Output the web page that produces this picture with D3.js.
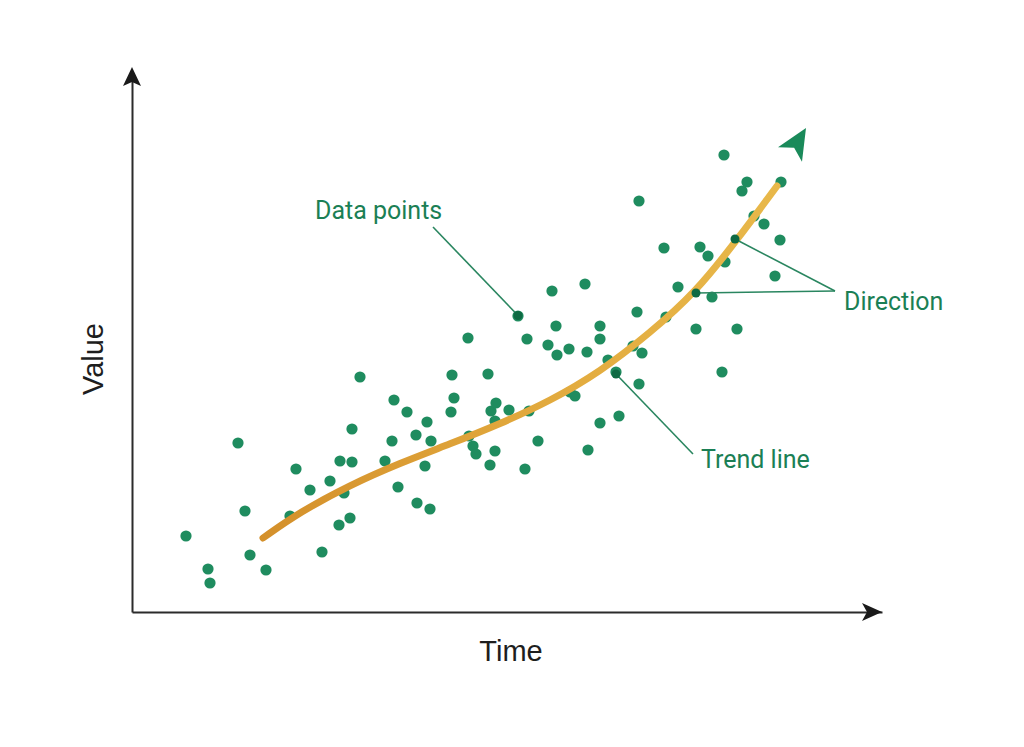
<!DOCTYPE html>
<html>
<head>
<meta charset="utf-8">
<script src="https://cdn.jsdelivr.net/npm/d3@7"></script>
<style>
  html, body { margin: 0; padding: 0; background: #fff; }
  #chart { width: 1024px; height: 747px; }
</style>
</head>
<body>
<div id="chart"></div>
<script>
// scatter points: time / value
const timeValues = [
  5.4, 7.6, 7.8, 10.6, 11.3, 11.8, 13.4, 15.8, 16.4, 17.8,
  19.0, 19.8, 20.7, 20.8, 21.2, 21.8, 22.0, 22.0, 22.8, 25.3,
  26.0, 26.2, 26.6, 27.5, 28.4, 28.5, 29.3, 29.5, 29.8, 29.9,
  31.9, 32.0, 32.2, 33.6, 33.7, 34.1, 34.4, 35.6, 35.8, 35.9,
  36.3, 36.3, 36.4, 37.7, 38.6, 39.3, 39.5, 39.7, 40.6, 41.6,
  42.0, 42.4, 42.5, 43.7, 43.8, 44.3, 45.3, 45.5, 45.6, 46.8,
  46.8, 46.8, 47.6, 48.4, 48.7, 50.1, 50.5, 50.7, 50.7, 51.0,
  53.2, 53.4, 54.6, 56.4, 56.8, 57.6, 58.0, 59.0, 59.2, 59.3,
  60.5, 61.0, 61.5, 62.2, 63.2, 64.3, 64.8, 64.9
];
const valueValues = [
  7.6, 4.3, 2.9, 16.9, 10.1, 5.7, 4.2, 9.6, 14.3, 12.2,
  6.0, 13.1, 8.7, 15.1, 11.9, 9.4, 18.3, 15.0, 23.5, 15.1,
  17.1, 21.2, 12.5, 20.0, 17.7, 10.9, 14.6, 19.0, 10.3, 17.1,
  20.0, 23.7, 21.4, 27.4, 17.6, 16.6, 15.8, 23.8, 14.7, 20.1,
  19.1, 16.1, 20.9, 20.2, 29.6, 14.3, 27.3, 20.1, 17.1, 26.7,
  32.1, 28.6, 25.7, 26.3, 22.0, 21.6, 32.8, 26.0, 16.2, 28.6,
  27.3, 18.9, 25.2, 24.0, 19.6, 26.6, 30.0, 41.1, 22.8, 25.9,
  36.4, 29.5, 32.5, 28.3, 36.5, 35.6, 31.5, 24.0, 45.7, 35.0,
  28.3, 42.1, 43.0, 39.6, 38.8, 33.6, 37.2, 43.0
];

// trend line
const trendTime  = [13.1, 16.8, 21.8, 26.8, 31.8, 36.8, 41.8, 46.8, 51.8, 56.4, 60.5, 64.5];
const trendValue = [7.4, 10.0, 12.7, 14.9, 16.8, 18.8, 21.1, 24.0, 27.9, 32.0, 37.2, 42.6];

// direction arrow (base -> tip)
const arrowTime  = [65.8, 67.4];
const arrowValue = [45.75, 48.4];

// annotations: label and the points it points at
const annotationLabels = ["Data points", "Trend line", "Direction"];
const annotationTargetTime  = [[38.6], [48.4], [60.3, 56.4]];
const annotationTargetValue = [[29.65], [23.8], [37.3, 31.9]];

const axisTitles = ["Time", "Value"];

// ---- layout ----
const width = 1024, height = 747;
const origin = { x: 132, y: 612 };
const labelPos = [
  { x: 315, y: 219, lx: 433, ly: 227 },
  { x: 701, y: 468, lx: 693, ly: 454 },
  { x: 844, y: 310, lx: 835, ly: 291 }
];
const green = '#1f8c5f';
const darkGreen = '#0e6a43';
const textGreen = '#1b7f55';

const svg = d3.select('#chart')
  .append('svg')
  .attr('width', width)
  .attr('height', height)
  .attr('viewBox', [0, 0, width, height]);

const x = d3.scaleLinear().domain([0, 75]).range([origin.x, 882]);
const y = d3.scaleLinear().domain([0, 54]).range([origin.y, 72]);

// 渐变色趋势线
const defs = svg.append('defs');
const grad = defs.append('linearGradient')
  .attr('id', 'trendGrad')
  .attr('gradientUnits', 'userSpaceOnUse')
  .attr('x1', x(trendTime[0])).attr('y1', 0)
  .attr('x2', x(trendTime[trendTime.length - 1])).attr('y2', 0);
grad.append('stop').attr('offset', '0%').attr('stop-color', '#d4902b');
grad.append('stop').attr('offset', '55%').attr('stop-color', '#e2aa3e');
grad.append('stop').attr('offset', '100%').attr('stop-color', '#e8b84a');

// axes (no ticks)
svg.append('g')
  .attr('transform', `translate(0,${origin.y})`)
  .call(d3.axisBottom(x).ticks(0).tickSizeOuter(0));
svg.append('g')
  .attr('transform', `translate(${origin.x},0)`)
  .call(d3.axisLeft(y).ticks(0).tickSizeOuter(0));
svg.selectAll('.domain')
  .attr('stroke', '#2b2b2b')
  .attr('stroke-width', 2);

// axis arrowheads
const xEnd = x.range()[1], yEnd = y.range()[1];
svg.append('path')
  .attr('d', `M${xEnd},${origin.y} L${xEnd - 20},${origin.y - 9} L${xEnd - 15},${origin.y} L${xEnd - 20},${origin.y + 9} Z`)
  .attr('fill', '#1a1a1a');
svg.append('path')
  .attr('d', `M${origin.x},${yEnd - 5} L${origin.x - 9},${yEnd + 14} L${origin.x},${yEnd + 10} L${origin.x + 9},${yEnd + 14} Z`)
  .attr('fill', '#1a1a1a');

// axis titles
svg.append('text')
  .attr('x', 511).attr('y', 661)
  .attr('text-anchor', 'middle')
  .attr('font-family', '"Liberation Sans", Arial, sans-serif')
  .attr('font-size', 29)
  .attr('fill', '#1e1e1e')
  .text(axisTitles[0]);
svg.append('text')
  .attr('transform', 'translate(103,359) rotate(-90)')
  .attr('text-anchor', 'middle')
  .attr('font-family', '"Liberation Sans", Arial, sans-serif')
  .attr('font-size', 29)
  .attr('fill', '#1e1e1e')
  .text(axisTitles[1]);

// points
const points = timeValues.map((t, i) => ({ t, v: valueValues[i] }));
svg.append('g')
  .selectAll('circle')
  .data(points)
  .join('circle')
  .attr('cx', d => x(d.t))
  .attr('cy', d => y(d.v))
  .attr('r', 5.6)
  .attr('fill', green);

// trend line
const trend = trendTime.map((t, i) => ({ t, v: trendValue[i] }));
svg.append('path')
  .datum(trend)
  .attr('d', d3.line().x(d => x(d.t)).y(d => y(d.v)).curve(d3.curveBasis))
  .attr('fill', 'none')
  .attr('stroke', 'url(#trendGrad)')
  .attr('stroke-width', 7)
  .attr('stroke-linecap', 'round');

// direction arrowhead
{
  const bx = x(arrowTime[0]), by = y(arrowValue[0]);
  const tx = x(arrowTime[1]), ty = y(arrowValue[1]);
  const len = Math.hypot(tx - bx, ty - by);
  const ux = (tx - bx) / len, uy = (ty - by) / len;
  const px = -uy, py = ux;
  const hw = 14, notch = 8;
  svg.append('path')
    .attr('d', `M${tx},${ty} L${bx + px * hw},${by + py * hw} L${bx + ux * notch},${by + uy * notch} L${bx - px * hw},${by - py * hw} Z`)
    .attr('fill', '#1a8a5a');
}

// annotations
const annG = svg.append('g');
annotationLabels.forEach((label, i) => {
  const pos = labelPos[i];
  annotationTargetTime[i].forEach((t, j) => {
    const tx = x(t), ty = y(annotationTargetValue[i][j]);
    annG.append('line')
      .attr('x1', pos.lx).attr('y1', pos.ly)
      .attr('x2', tx).attr('y2', ty)
      .attr('stroke', '#2a8660')
      .attr('stroke-width', 1.6);
    annG.append('circle')
      .attr('cx', tx).attr('cy', ty)
      .attr('r', 4.5)
      .attr('fill', darkGreen);
  });
  annG.append('text')
    .attr('x', pos.x).attr('y', pos.y)
    .attr('font-family', 'Roboto, "Noto Sans", sans-serif')
    .attr('font-size', 25)
    .attr('fill', textGreen)
    .text(label);
});
</script>
</body>
</html>
